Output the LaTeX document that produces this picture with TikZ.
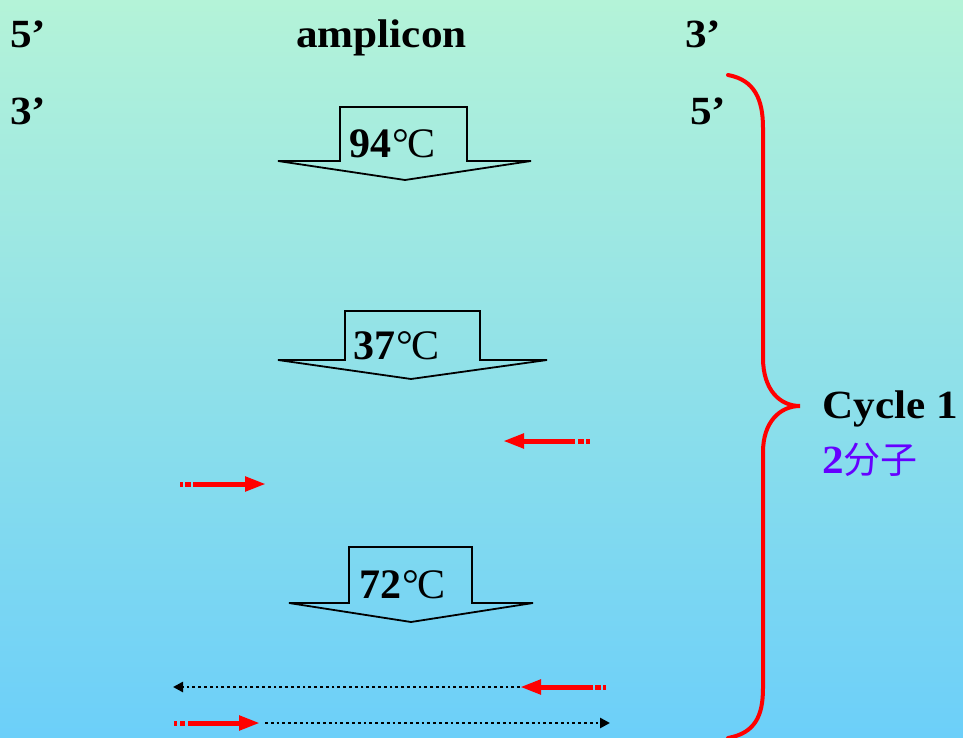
\documentclass[tikz,border=0pt]{standalone}
\usepackage{fontspec}
\setmainfont{Liberation Serif}
\newfontfamily\widefont[FakeStretch=1.08]{Liberation Serif}
\newfontfamily\cjk{Noto Sans CJK SC}
\usetikzlibrary{arrows.meta}
\definecolor{bgtop}{RGB}{180,243,216}
\definecolor{bgbot}{RGB}{108,207,249}
\definecolor{primer}{RGB}{255,0,0}
\definecolor{purp}{RGB}{102,0,255}
\begin{document}
\begin{tikzpicture}[x=1pt,y=-1pt,
  lab/.style={font=\widefont\bfseries\fontsize{40}{44}\selectfont, inner sep=0pt, anchor=base west},
  temp/.style={font=\fontsize{42}{46}\selectfont, inner sep=0pt, anchor=base west},
  tarrow/.style={draw=black, line width=1.8pt, line join=miter},
  shaft/.style={draw=primer, line width=5pt, -{Triangle[length=21pt,width=14pt]}},
  dashbit/.style={draw=primer, line width=5pt},
  dotline/.style={draw=black, line width=2.8pt, dash pattern=on 2.8pt off 3pt, -{Triangle[length=10pt,width=10pt]}},
  bracestyle/.style={draw=primer, line width=4pt, line cap=round}
]
\useasboundingbox (0,0) rectangle (963,738);
\shade[top color=bgtop, bottom color=bgbot] (0,0) rectangle (963,738);

% labels
\node[lab] (l5a) at (10,48) {5’};
\node[lab] (amp) at (296,48) {amplicon};
\node[lab] (r3a) at (685,48) {3’};
\node[lab] (l3b) at (10,125) {3’};
\node[lab] (r5b) at (690,125) {5’};

% temperature arrows
\draw[tarrow] (278,161) -- (340,161) -- (340,107) -- (467,107) -- (467,161) -- (531,161) -- (405,180) -- cycle;
\node[temp] (t94) at (349,158) {\textbf{94}\kern1pt°\kern-2pt C};

\draw[tarrow] (278,360) -- (345,360) -- (345,311) -- (480,311) -- (480,360) -- (547,360) -- (411,379) -- cycle;
\node[temp] (t37) at (353,359) {\textbf{37}\kern1pt°\kern-2pt C};

\draw[tarrow] (289,603) -- (349,603) -- (349,547) -- (472,547) -- (472,603) -- (533,603) -- (411,622) -- cycle;
\node[temp] (t72) at (359,598) {\textbf{72}\kern1pt°\kern-2pt C};

% primers after annealing
\coordinate (pr1s) at (575,441);
\coordinate (pr1e) at (503,441);
\draw[shaft] (pr1s) -- (pr1e);
\draw[dashbit] (578,441) -- (583.5,441);
\draw[dashbit] (586,441) -- (589.5,441);

\coordinate (pf1s) at (193,484);
\coordinate (pf1e) at (266,484);
\draw[shaft] (pf1s) -- (pf1e);
\draw[dashbit] (180,484) -- (183,484);
\draw[dashbit] (185,484) -- (191,484);

% extension
\coordinate (pr2s) at (593,687);
\coordinate (pr2e) at (520,687);
\coordinate (ext1e) at (173,687);
\draw[dotline] (pr2e) -- (ext1e);
\draw[shaft] (pr2s) -- (pr2e);
\draw[dashbit] (595,687) -- (601,687);
\draw[dashbit] (603,687) -- (606,687);

\coordinate (pf2s) at (188,723);
\coordinate (pf2e) at (260,723);
\coordinate (ext2s) at (265,723);
\coordinate (ext2e) at (610,723);
\draw[shaft] (pf2s) -- (pf2e);
\draw[dashbit] (174,723) -- (177,723);
\draw[dashbit] (180,723) -- (185,723);
\draw[dotline] (ext2s) -- (ext2e);

% brace
\draw[bracestyle] (728,75) .. controls (755,80) and (763,100) .. (763,128) -- (763,358)
  .. controls (763,390) and (780,406) .. (800,406)
  .. controls (780,406) and (763,422) .. (763,452) -- (763,688)
  .. controls (763,716) and (755,733) .. (728,738);

\node[lab] (cyc) at (822,418) {Cycle 1};
\node[inner sep=0pt, anchor=base west, text=purp] (mol) at (822,473)
  {{\widefont\bfseries\fontsize{40}{44}\selectfont 2}{\cjk\fontsize{37}{40}\selectfont 分子}};
\end{tikzpicture}
\end{document}
